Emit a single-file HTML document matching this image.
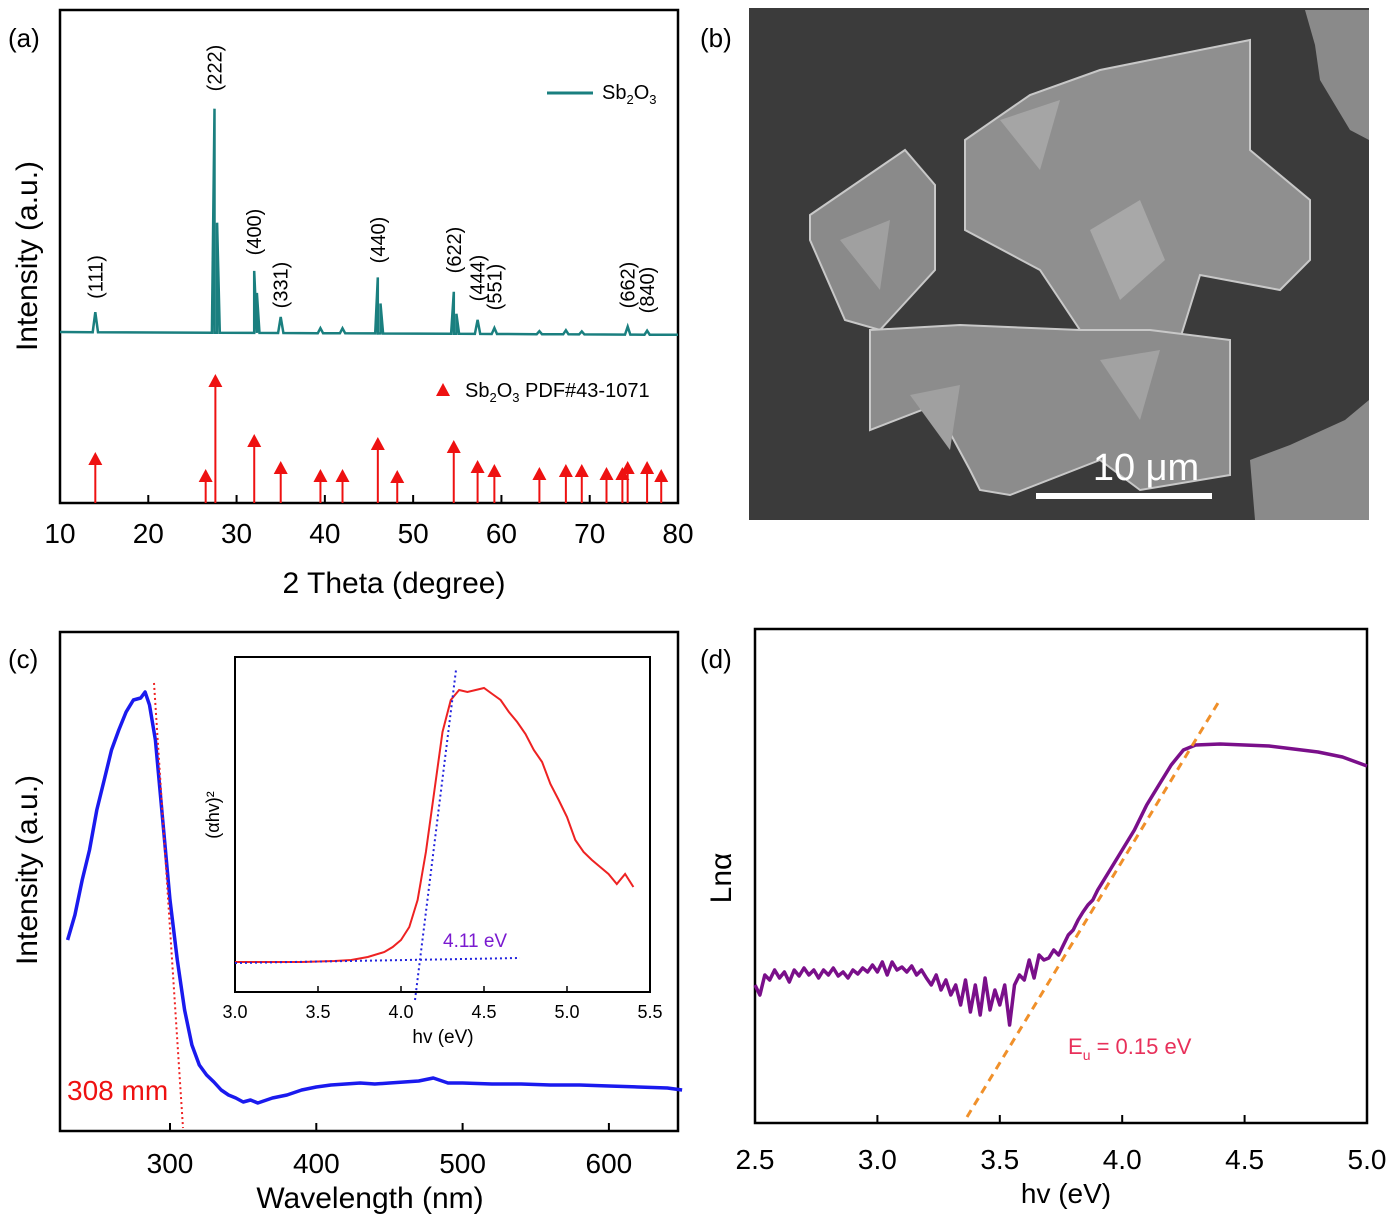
<!DOCTYPE html>
<html><head><meta charset="utf-8"><style>
body{margin:0;background:#fff}
svg{display:block;font-family:"Liberation Sans",Arial,sans-serif}
</style></head><body>
<svg id="fig" width="1394" height="1223" viewBox="0 0 1394 1223" xmlns="http://www.w3.org/2000/svg">
<rect width="1394" height="1223" fill="#fff"/>
<g id="pa"></g>
<g id="pb">
 <rect x="749" y="8" width="620" height="512" fill="#3b3b3b"/>
 <polygon points="810,215 905,150 935,185 935,270 880,330 845,320 810,240" fill="#8a8a8a" stroke="#c8c8c8" stroke-width="2"/>
 <polygon points="965,140 1030,95 1100,70 1250,40 1250,150 1310,200 1310,260 1280,290 1200,275 1175,355 1110,360 1080,330 1040,270 965,230" fill="#8f8f8f" stroke="#c8c8c8" stroke-width="2"/>
 <polygon points="870,330 960,325 1080,330 1150,330 1230,340 1230,475 1140,490 1100,460 1010,495 980,490 970,470 935,405 870,430" fill="#8c8c8c" stroke="#c8c8c8" stroke-width="2"/>
 <polygon points="1305,10 1369,10 1369,140 1350,130 1320,80 1315,45" fill="#8a8a8a"/>
 <polygon points="1250,460 1290,445 1345,420 1369,400 1369,520 1255,520" fill="#8a8a8a"/>
 <polygon points="1090,230 1140,200 1165,260 1120,300" fill="#a8a8a8"/>
 <polygon points="1000,120 1060,100 1040,170" fill="#a5a5a5"/>
 <polygon points="910,395 960,385 950,450" fill="#a0a0a0"/>
 <polygon points="1100,360 1160,350 1140,420" fill="#a2a2a2"/>
 <polygon points="840,240 890,220 880,290" fill="#a0a0a0"/>
 <line x1="1036" y1="496" x2="1212" y2="496" stroke="#fff" stroke-width="6"/>
 <text x="1146" y="480" font-size="38" fill="#fff" text-anchor="middle">10 μm</text>
</g>
<g id="pc"></g>
<g id="pd"></g>
<text x="8" y="47" font-size="26">(a)</text>
<text x="700" y="47" font-size="26">(b)</text>
<text x="8" y="668" font-size="26">(c)</text>
<text x="700" y="668" font-size="26">(d)</text>
</svg>
<script>
// ---- Panel a data ----
const peakPos=[14.0,27.5,27.8,32.0,32.3,35.0,39.5,42.0,46.0,46.3,54.6,54.9,57.3,59.2,64.3,67.3,69.1,74.3,76.5];
const peakHt=[20,224,110,62,40,16,5,5,56,30,42,20,14,6,3,4,3,8,4];
const refPos=[14.0,26.5,27.6,32.0,35.0,39.5,42.0,46.0,48.2,54.6,57.3,59.2,64.3,67.3,69.1,71.9,73.7,74.3,76.5,78.1];
const refInt=[45,28,123,63,36,28,28,60,27,57,37,33,30,33,33,30,30,36,36,28];
const hklLabels=["(111)","(222)","(400)","(331)","(440)","(622)","(444)","(551)","(662)","(840)"];
const hklPos=[14.0,27.5,32.0,35.0,46.0,54.6,57.3,59.2,74.3,76.5];
const hklY=[277,68,232,285,240,250,278,287,285,290];
const aTicks=[10,20,30,40,50,60,70,80];
// ---- Panel c data ----
const wl=[230,235,240,245,250,255,260,265,270,275,280,283,286,290,295,300,305,310,315,320,325,330,335,340,345,350,355,360,370,380,390,400,410,420,430,440,450,460,470,480,490,500,520,540,560,580,600,620,640,650];
const pl=[191,216,251,281,321,351,381,401,419,431,433,439,426,391,311,231,171,121,86,66,56,49,41,36,33,29,31,28,33,36,41,44,46,47,48,47,48,49,50,53,48,48,47,47,46,46,45,44,43,41];
const cTicks=[300,400,500,600];
const insHv=[3.0,3.2,3.4,3.6,3.7,3.8,3.9,3.95,4.0,4.05,4.1,4.15,4.2,4.25,4.3,4.35,4.4,4.45,4.5,4.55,4.6,4.65,4.7,4.75,4.8,4.85,4.9,4.95,5.0,5.05,5.1,5.15,5.2,5.25,5.3,5.35,5.4];
const insAbs=[0,0,0,1,2,5,10,15,22,35,62,110,170,230,262,272,270,272,274,268,262,250,240,228,212,200,178,162,145,122,110,102,95,88,78,88,75];
const insTicks=[3.0,3.5,4.0,4.5,5.0,5.5];
// ---- Panel d data ----
const dHv=[2.50,2.52,2.54,2.56,2.58,2.60,2.62,2.64,2.66,2.68,2.70,2.72,2.74,2.76,2.78,2.80,2.82,2.84,2.86,2.88,2.90,2.92,2.94,2.96,2.98,3.00,3.02,3.04,3.06,3.08,3.10,3.12,3.14,3.16,3.18,3.20,3.22,3.24,3.26,3.28,3.30,3.32,3.34,3.36,3.38,3.40,3.42,3.44,3.46,3.48,3.50,3.52,3.54,3.56,3.58,3.60,3.62,3.64,3.66,3.68,3.70,3.72,3.74,3.76,3.78,3.80,3.82,3.84,3.86,3.88,3.90,3.95,4.00,4.05,4.10,4.15,4.20,4.25,4.30,4.40,4.50,4.60,4.70,4.80,4.90,5.00];
const dLn=[138,128,148,143,153,145,151,141,153,147,155,148,153,145,153,148,155,147,151,145,153,149,155,151,158,151,161,148,161,153,156,151,157,148,153,145,138,148,133,143,128,138,118,143,111,138,108,145,113,133,118,138,98,138,148,143,163,145,168,163,165,173,168,178,188,193,203,211,218,223,233,253,273,293,318,338,358,373,378,379,378,377,374,371,366,357];
const dTicks=[2.5,3.0,3.5,4.0,4.5,5.0];

const NS="http://www.w3.org/2000/svg";
function mk(parent,tag,attrs,text){const e=document.createElementNS(NS,tag);for(const k in attrs)e.setAttribute(k,attrs[k]);if(text!==undefined)e.textContent=text;parent.appendChild(e);return e;}
const pa=document.getElementById('pa'),pc=document.getElementById('pc'),pd=document.getElementById('pd');

// Panel a
const xa=v=>60+(v-10)*(618/70);
let a=mk(pa,'rect',{x:60,y:10,width:618,height:493,fill:'none',stroke:'#000','stroke-width':2.5});


aTicks.forEach(t=>{mk(pa,'line',{x1:xa(t),y1:503,x2:xa(t),y2:495,stroke:'#000','stroke-width':2});
 let l=mk(pa,'text',{x:xa(t),y:543,'font-size':28,'text-anchor':'middle'},t);
 
 });
a=mk(pa,'text',{x:394,y:593,'font-size':30,'text-anchor':'middle'},'2 Theta (degree)');


a=mk(pa,'text',{x:0,y:0,'font-size':30,'text-anchor':'middle',transform:'translate(37,256) rotate(-90)'},'Intensity (a.u.)');


// teal pattern
const base=v=>332+(v-10)*0.04;
let pts=[[10,base(10)]];
peakPos.forEach((p,i)=>{pts.push([p-0.3,base(p)]);pts.push([p,base(p)-peakHt[i]]);pts.push([p+0.3,base(p)]);});
pts.push([80,base(80)]);
pts.sort((u,v)=>u[0]-v[0]);
a=mk(pa,'path',{d:'M'+pts.map(q=>xa(q[0]).toFixed(1)+','+q[1].toFixed(1)).join(' L'),fill:'none',stroke:'#1a7f7f','stroke-width':2.5});


refPos.forEach((p,i)=>{const top=503-refInt[i];
 let g=mk(pa,'g',{});
 
 
 mk(g,'line',{x1:xa(p),y1:503,x2:xa(p),y2:top,stroke:'#ee1111','stroke-width':2});
 mk(g,'polygon',{points:`${xa(p)-7},${top+7} ${xa(p)+7},${top+7} ${xa(p)},${top-6}`,fill:'#ee1111'});});
hklLabels.forEach((s,i)=>{let t=mk(pa,'text',{x:0,y:0,'font-size':20,'text-anchor':'middle',transform:`translate(${xa(hklPos[i])+7},${hklY[i]}) rotate(-90)`},s);
 
 });
a=mk(pa,'line',{x1:547,y1:93,x2:593,y2:93,stroke:'#1a7f7f','stroke-width':3});


pa.insertAdjacentHTML('beforeend','<text x="602" y="99" font-size="20">Sb<tspan font-size="13" dy="5">2</tspan><tspan dy="-5">O</tspan><tspan font-size="13" dy="5">3</tspan></text>');
a=mk(pa,'polygon',{points:'436,396 450,396 443,383',fill:'#ee1111'});


pa.insertAdjacentHTML('beforeend','<text x="465" y="397" font-size="20">Sb<tspan font-size="13" dy="5">2</tspan><tspan dy="-5">O</tspan><tspan font-size="13" dy="5">3</tspan><tspan dy="-5"> PDF#43-1071</tspan></text>');

// Panel c
const xc=v=>170+(v-300)*1.463, yc=v=>1131-v;
a=mk(pc,'rect',{x:60,y:632,width:618,height:499,fill:'none',stroke:'#000','stroke-width':2.5});


cTicks.forEach(t=>{mk(pc,'line',{x1:xc(t),y1:1131,x2:xc(t),y2:1123,stroke:'#000','stroke-width':2});
 let l=mk(pc,'text',{x:xc(t),y:1173,'font-size':28,'text-anchor':'middle'},t);
 
 });
a=mk(pc,'text',{x:370,y:1208,'font-size':30,'text-anchor':'middle'},'Wavelength (nm)');


a=mk(pc,'text',{x:0,y:0,'font-size':30,'text-anchor':'middle',transform:'translate(37,870) rotate(-90)'},'Intensity (a.u.)');


a=mk(pc,'path',{d:'M'+wl.map((w,i)=>xc(w).toFixed(1)+','+yc(pl[i]).toFixed(1)).join(' L'),fill:'none',stroke:'#1a1aee','stroke-width':3.5,'stroke-linejoin':'round'});


a=mk(pc,'line',{x1:154,y1:683,x2:183,y2:1128,stroke:'#ee2222','stroke-width':2,'stroke-dasharray':'2,3'});


a=mk(pc,'text',{x:67,y:1100,'font-size':28,fill:'#ee1111'},'308 mm');


// inset
const xi=v=>235+(v-3)*166, yi=v=>962-v;
a=mk(pc,'rect',{x:235,y:657,width:415,height:335,fill:'#fff',stroke:'#000','stroke-width':2});


insTicks.forEach(t=>{mk(pc,'line',{x1:xi(t),y1:992,x2:xi(t),y2:986,stroke:'#000','stroke-width':1.5});
 let l=mk(pc,'text',{x:xi(t),y:1018,'font-size':18,'text-anchor':'middle'},t.toFixed(1));
 
 });
a=mk(pc,'text',{x:443,y:1043,'font-size':19,'text-anchor':'middle'},'hv (eV)');


a=mk(pc,'text',{x:0,y:0,'font-size':18,'text-anchor':'middle',transform:'translate(219,815) rotate(-90)'},'(αhv)²');


a=mk(pc,'path',{d:'M'+insHv.map((h,i)=>xi(h).toFixed(1)+','+yi(insAbs[i]).toFixed(1)).join(' L'),fill:'none',stroke:'#ee2222','stroke-width':2});


a=mk(pc,'line',{x1:235,y1:963,x2:520,y2:958,stroke:'#2222dd','stroke-width':2,'stroke-dasharray':'2,3'});


a=mk(pc,'line',{x1:415,y1:1000,x2:456,y2:670,stroke:'#2222dd','stroke-width':2,'stroke-dasharray':'2,3'});


a=mk(pc,'text',{x:443,y:947,'font-size':19,fill:'#7a1ad0'},'4.11 eV');



// Panel d
const xd=v=>755+(v-2.5)*244.8, yd=v=>1123-v;
a=mk(pd,'rect',{x:755,y:629,width:612,height:494,fill:'none',stroke:'#000','stroke-width':2.5});


dTicks.forEach(t=>{mk(pd,'line',{x1:xd(t),y1:1123,x2:xd(t),y2:1115,stroke:'#000','stroke-width':2});
 let l=mk(pd,'text',{x:xd(t),y:1169,'font-size':28,'text-anchor':'middle'},t.toFixed(1));
 
 });
a=mk(pd,'text',{x:1066,y:1203,'font-size':28,'text-anchor':'middle'},'hv (eV)');


a=mk(pd,'text',{x:0,y:0,'font-size':30,'text-anchor':'middle',transform:'translate(731,878) rotate(-90)'},'Lnα');


a=mk(pd,'path',{d:'M'+dHv.map((h,i)=>xd(h).toFixed(1)+','+yd(dLn[i]).toFixed(1)).join(' L'),fill:'none',stroke:'#7a0f8a','stroke-width':3.5,'stroke-linejoin':'round'});


a=mk(pd,'line',{x1:967,y1:1117,x2:1218,y2:703,stroke:'#f0902a','stroke-width':3,'stroke-dasharray':'8,6'});


pd.insertAdjacentHTML('beforeend','<text x="1068" y="1054" font-size="22" fill="#e8305a">E<tspan font-size="14" dy="6">u</tspan><tspan dy="-6"> = 0.15 eV</tspan></text>');
</script>
</body></html>
